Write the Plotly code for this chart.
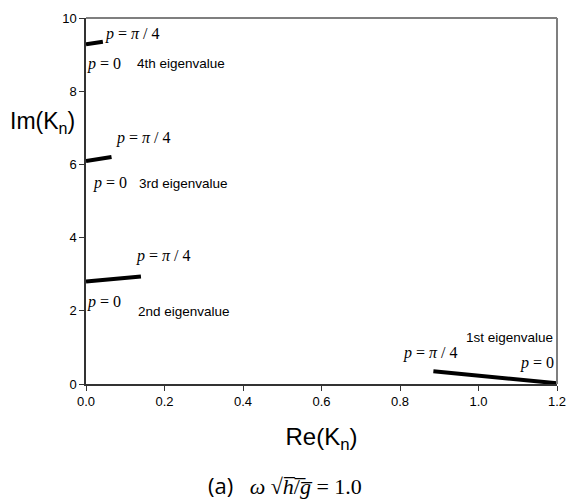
import plotly.graph_objects as go

# Eigenvalue paths (Re, Im) from p=0 to p=pi/4
ev1_re = [1.2, 0.885]
ev1_im = [0.02, 0.35]
ev2_re = [0.0, 0.14]
ev2_im = [2.80, 2.94]
ev3_re = [0.0, 0.065]
ev3_im = [6.09, 6.20]
ev4_re = [0.0, 0.043]
ev4_im = [9.28, 9.35]

x_ticks = [0.0, 0.2, 0.4, 0.6, 0.8, 1.0, 1.2]
y_ticks = [0, 2, 4, 6, 8, 10]

fig = go.Figure()
for xs, ys in [(ev1_re, ev1_im), (ev2_re, ev2_im), (ev3_re, ev3_im), (ev4_re, ev4_im)]:
    fig.add_trace(go.Scatter(x=xs, y=ys, mode="lines",
                             line=dict(color="black", width=4), showlegend=False,
                             hoverinfo="skip"))

SERIF = "Liberation Serif"
SANS = "Liberation Sans"
PI4 = "<i>p</i> = <i>π</i> / 4"
P0 = "<i>p</i> = 0"

def ann(x, y, text, font, size, xanchor="left"):
    fig.add_annotation(x=x, y=y, xref="x", yref="y", text=text, showarrow=False,
                       xanchor=xanchor, yanchor="middle", borderpad=0,
                       font=dict(family=font, size=size, color="black"))

# 4th
ann(0.047, 9.57, PI4, SERIF, 16)
ann(0.0, 8.75, P0, SERIF, 16)
ann(0.127, 8.75, "4th eigenvalue", SANS, 13.5)
# 3rd
ann(0.074, 6.71, PI4, SERIF, 16)
ann(0.014, 5.49, P0, SERIF, 16)
ann(0.133, 5.49, "3rd eigenvalue", SANS, 13.5)
# 2nd
ann(0.126, 3.5, PI4, SERIF, 16)
ann(0.0, 2.23, P0, SERIF, 16)
ann(0.129, 1.98, "2nd eigenvalue", SANS, 13.5)
# 1st
ann(0.965, 1.28, "1st eigenvalue", SANS, 13.5)
ann(0.805, 0.84, PI4, SERIF, 16)
ann(1.194, 0.57, P0, SERIF, 16, xanchor="right")

# Y axis title (horizontal)
fig.add_annotation(x=-0.092, y=0.715, xref="paper", yref="paper", showarrow=False,
                   text="Im(K<sub>n</sub>)", font=dict(family=SANS, size=23, color="black"),
                   xanchor="center", yanchor="middle")

# Caption
fig.add_annotation(x=0.256, y=-0.276, xref="paper", yref="paper", showarrow=False,
                   text="<span style='font-family:Open Sans'>(a)</span>   <i>ω</i> √<i>h̅</i>/̅<i>g̅</i> = 1.0",
                   font=dict(family=SERIF, size=22, color="black"), borderpad=0,
                   xanchor="left", yanchor="middle")

# top/right grey border
fig.add_shape(type="line", xref="paper", yref="paper", x0=0, x1=1, y0=1, y1=1,
              line=dict(color="#7f7f7f", width=2))
fig.add_shape(type="line", xref="paper", yref="paper", x0=1, x1=1, y0=0, y1=1,
              line=dict(color="#7f7f7f", width=2))

fig.update_layout(
    width=577, height=500,
    margin=dict(l=86, r=11, t=16, b=116),
    plot_bgcolor="white", paper_bgcolor="white",
    font=dict(family=SANS, color="black"),
    xaxis=dict(range=[0, 1.2], tickvals=x_ticks, ticktext=[f"{v:.1f}" for v in x_ticks],
               showgrid=False, zeroline=False, showline=True, linecolor="#333",
               linewidth=1.5, ticks="outside", ticklen=5, tickcolor="#333",
               tickfont=dict(size=13, family=SANS),
               title=dict(text="Re(K<sub>n</sub>)", font=dict(size=24, family=SANS), standoff=20)),
    yaxis=dict(range=[0, 10], tickvals=y_ticks, showgrid=False, zeroline=False,
               showline=True, linecolor="#333", linewidth=1.5, ticks="outside",
               ticklen=5, tickcolor="#333", tickfont=dict(size=13, family=SANS)),
)

fig.write_html("out.html")
